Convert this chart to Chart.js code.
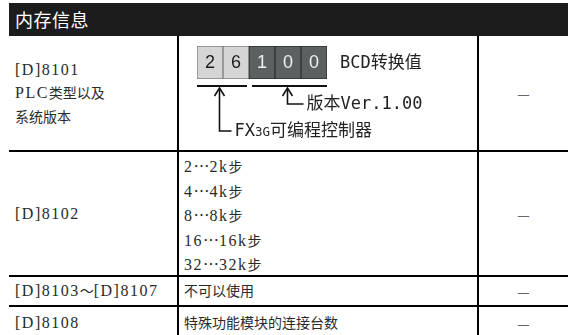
<!DOCTYPE html>
<html lang="zh-CN"><head><meta charset="utf-8">
<script src="https://cdn.jsdelivr.net/npm/chart.js@4/dist/chart.umd.min.js"></script>
<style>
html,body{margin:0;padding:0;background:#fff;width:571px;height:335px;overflow:hidden;}
body{position:relative;color:#2a2a2a;}
.hdr{position:absolute;left:9px;top:3px;width:559px;height:33px;background:#1c1c1c;color:#fff;font-family:"Noto Sans CJK SC";font-size:18px;line-height:33px;padding-left:6px;box-sizing:border-box;letter-spacing:0.5px;}
.hl{position:absolute;left:9px;width:559px;height:2px;background:#000;}
.vl{position:absolute;width:2px;background:#000;top:36px;height:300px;}
.cell{position:absolute;display:flex;flex-direction:column;justify-content:center;box-sizing:border-box;}
.t{font-size:14px;font-family:"Noto Sans CJK SC";line-height:23.4px;white-space:nowrap;color:#2a2a2a;}
.l{font-family:"Liberation Serif";font-size:16px;letter-spacing:1.5px;}
.el{font-family:"Noto Sans CJK SC";font-feature-settings:"fwid" 1;font-size:16px;}
.dash{color:#666;font-family:"Noto Sans CJK SC";font-size:14px;text-align:center;align-items:center;}
.g{position:absolute;font-family:"DejaVu Sans Mono","Noto Sans CJK SC";font-size:17px;color:#222;white-space:nowrap;line-height:20px;}
.sm{font-size:12.5px;}
#cv{position:absolute;left:180px;top:38px;}
</style>
</head><body>
<script>
// ---- data ----
const headerTitle = '内存信息';
const deviceCol = [['[D]8101','PLC类型以及','系统版本'], ['[D]8102'], ['[D]8103～[D]8107'], ['[D]8108']];
const contentCol = [null, ['2…2k步','4…4k步','8…8k步','16…16k步','32…32k步'], ['不可以使用'], ['特殊功能模块的连接台数']];
const attrCol = ['—','—','—','—'];
const digits = ['2','6','1','0','0'];
const boxValues = [1,1,1,1,1];
const boxKinds = ['model','model','version','version','version'];
const groupStart = [0, 2];
const groupEnd = [1, 4];
const groupLabels = ['FX<span class="sm">3G</span>可编程控制器', '版本Ver.1.00'];
const unitLabel = 'BCD转换值';
</script>
<div class="hdr" id="hdr"></div>
<div id="tbl"></div>
<canvas id="cv" width="290" height="110"></canvas>
<div class="g" id="g0"></div>
<div class="g" id="g1"></div>
<div class="g" id="gu"></div>
<script>
document.getElementById('hdr').textContent = headerTitle;
// layout of rows (page px)
const rowTop = [36, 152, 277, 307];
const rowBot = [150, 275, 305, 338];
const lineY = [150, 275, 305];
const colX = [9, 179, 479, 568];
function wrapLatin(s){
  return s.replace(/[&<>]/g,c=>({'&':'&amp;','<':'&lt;','>':'&gt;'}[c]))
          .replace(/([\x21-\x7e]+)/g,'<span class="l">$1</span>');
}
const tbl = document.getElementById('tbl');
let html = '';
lineY.forEach(y=>{ html += `<div class="hl" style="top:${y}px"></div>`; });
html += `<div class="vl" style="left:177px"></div><div class="vl" style="left:477px"></div>`;
for(let r=0;r<4;r++){
  const h = rowBot[r]-rowTop[r];
  html += `<div class="cell" style="left:${colX[0]+6}px;top:${rowTop[r]}px;width:${colX[1]-colX[0]-8}px;height:${h}px">` +
    deviceCol[r].map(s=>`<div class="t">${wrapLatin(s)}</div>`).join('') + '</div>';
  if(contentCol[r]){
    const pad = r===1 ? 'padding-top:4px;' : '';
    html += `<div class="cell" style="left:${colX[1]+5}px;top:${rowTop[r]}px;width:${colX[2]-colX[1]-8}px;height:${h}px;${pad}">` +
      contentCol[r].map(s=>`<div class="t">${s.replace(/([0-9k]+)/g,'<span class="l">$1</span>').replace(/…/g,'<span class="el">…</span>')}</div>`).join('') + '</div>';
  }
  html += `<div class="cell dash" style="left:${colX[2]}px;top:${rowTop[r]}px;width:${colX[3]-colX[2]}px;height:${h}px">${attrCol[r]}</div>`;
}
tbl.innerHTML = html;

const fills = {model:'#d5d5d5', version:'#5b6161'};
const borders = {model:'#7e7e7e', version:'#2e3232'};
const digitColors = {model:'#1c1c1c', version:'#eeeeee'};
const elbowDrop = [52, 25];
const elbowLen = [12, 16];
const cvLeft = 180, cvTop = 38;

const bcdPlugin = {
  id:'bcd',
  afterDatasetsDraw(chart){
    const ctx = chart.ctx;
    const els = chart.getDatasetMeta(0).data;
    const ca = chart.chartArea;
    ctx.save();
    ctx.textAlign='center'; ctx.textBaseline='middle';
    ctx.font = '18px "Liberation Sans"';
    els.forEach((el,i)=>{
      ctx.fillStyle = digitColors[boxKinds[i]];
      ctx.fillText(digits[i], el.x, (el.y+el.base)/2 + 1);
    });
    groupStart.forEach((s,g)=>{
      const e = groupEnd[g];
      const left = els[s].x - els[s].width/2 + (g>0?3:0);
      const right = els[e].x + els[e].width/2 - (g<groupStart.length-1?2:0);
      const yBar = ca.bottom + 6;
      ctx.fillStyle='#111';
      ctx.fillRect(left, yBar, right-left, 2);
      const ax = Math.round((left+right)/2 - 3) + 0.5;
      const tipY = yBar + 3;
      const elbowY = ca.bottom + elbowDrop[g];
      ctx.strokeStyle='#111'; ctx.lineWidth=1.6;
      ctx.beginPath(); ctx.moveTo(ax, tipY+1); ctx.lineTo(ax, elbowY); ctx.lineTo(ax+elbowLen[g], elbowY); ctx.stroke();
      ctx.beginPath(); ctx.moveTo(ax-5, tipY+8); ctx.lineTo(ax, tipY); ctx.lineTo(ax+5, tipY+8); ctx.stroke();
      const lab = document.getElementById('g'+g);
      lab.innerHTML = groupLabels[g];
      lab.style.left = (cvLeft + ax + elbowLen[g] + 3) + 'px';
      lab.style.top = (cvTop + elbowY - 11) + 'px';
    });
    const last = els[els.length-1];
    const u = document.getElementById('gu');
    u.textContent = unitLabel;
    u.style.left = (cvLeft + last.x + last.width/2 + 13) + 'px';
    u.style.top = (cvTop + (last.y+last.base)/2 - 11) + 'px';
    ctx.restore();
  }
};

new Chart(document.getElementById('cv'), {
  type:'bar',
  data:{labels:digits, datasets:[{
    data:boxValues,
    backgroundColor: boxKinds.map(k=>fills[k]),
    borderColor: boxKinds.map(k=>borders[k]),
    borderWidth:1, borderSkipped:false,
    barPercentage:1, categoryPercentage:1
  }]},
  options:{
    responsive:false, animation:false, devicePixelRatio:1,
    layout:{padding:{left:17,top:8,right:143,bottom:69}},
    scales:{x:{display:false}, y:{display:false,min:0,max:1}},
    plugins:{legend:{display:false}, tooltip:{enabled:false}}
  },
  plugins:[bcdPlugin]
});
</script>
</body></html>
